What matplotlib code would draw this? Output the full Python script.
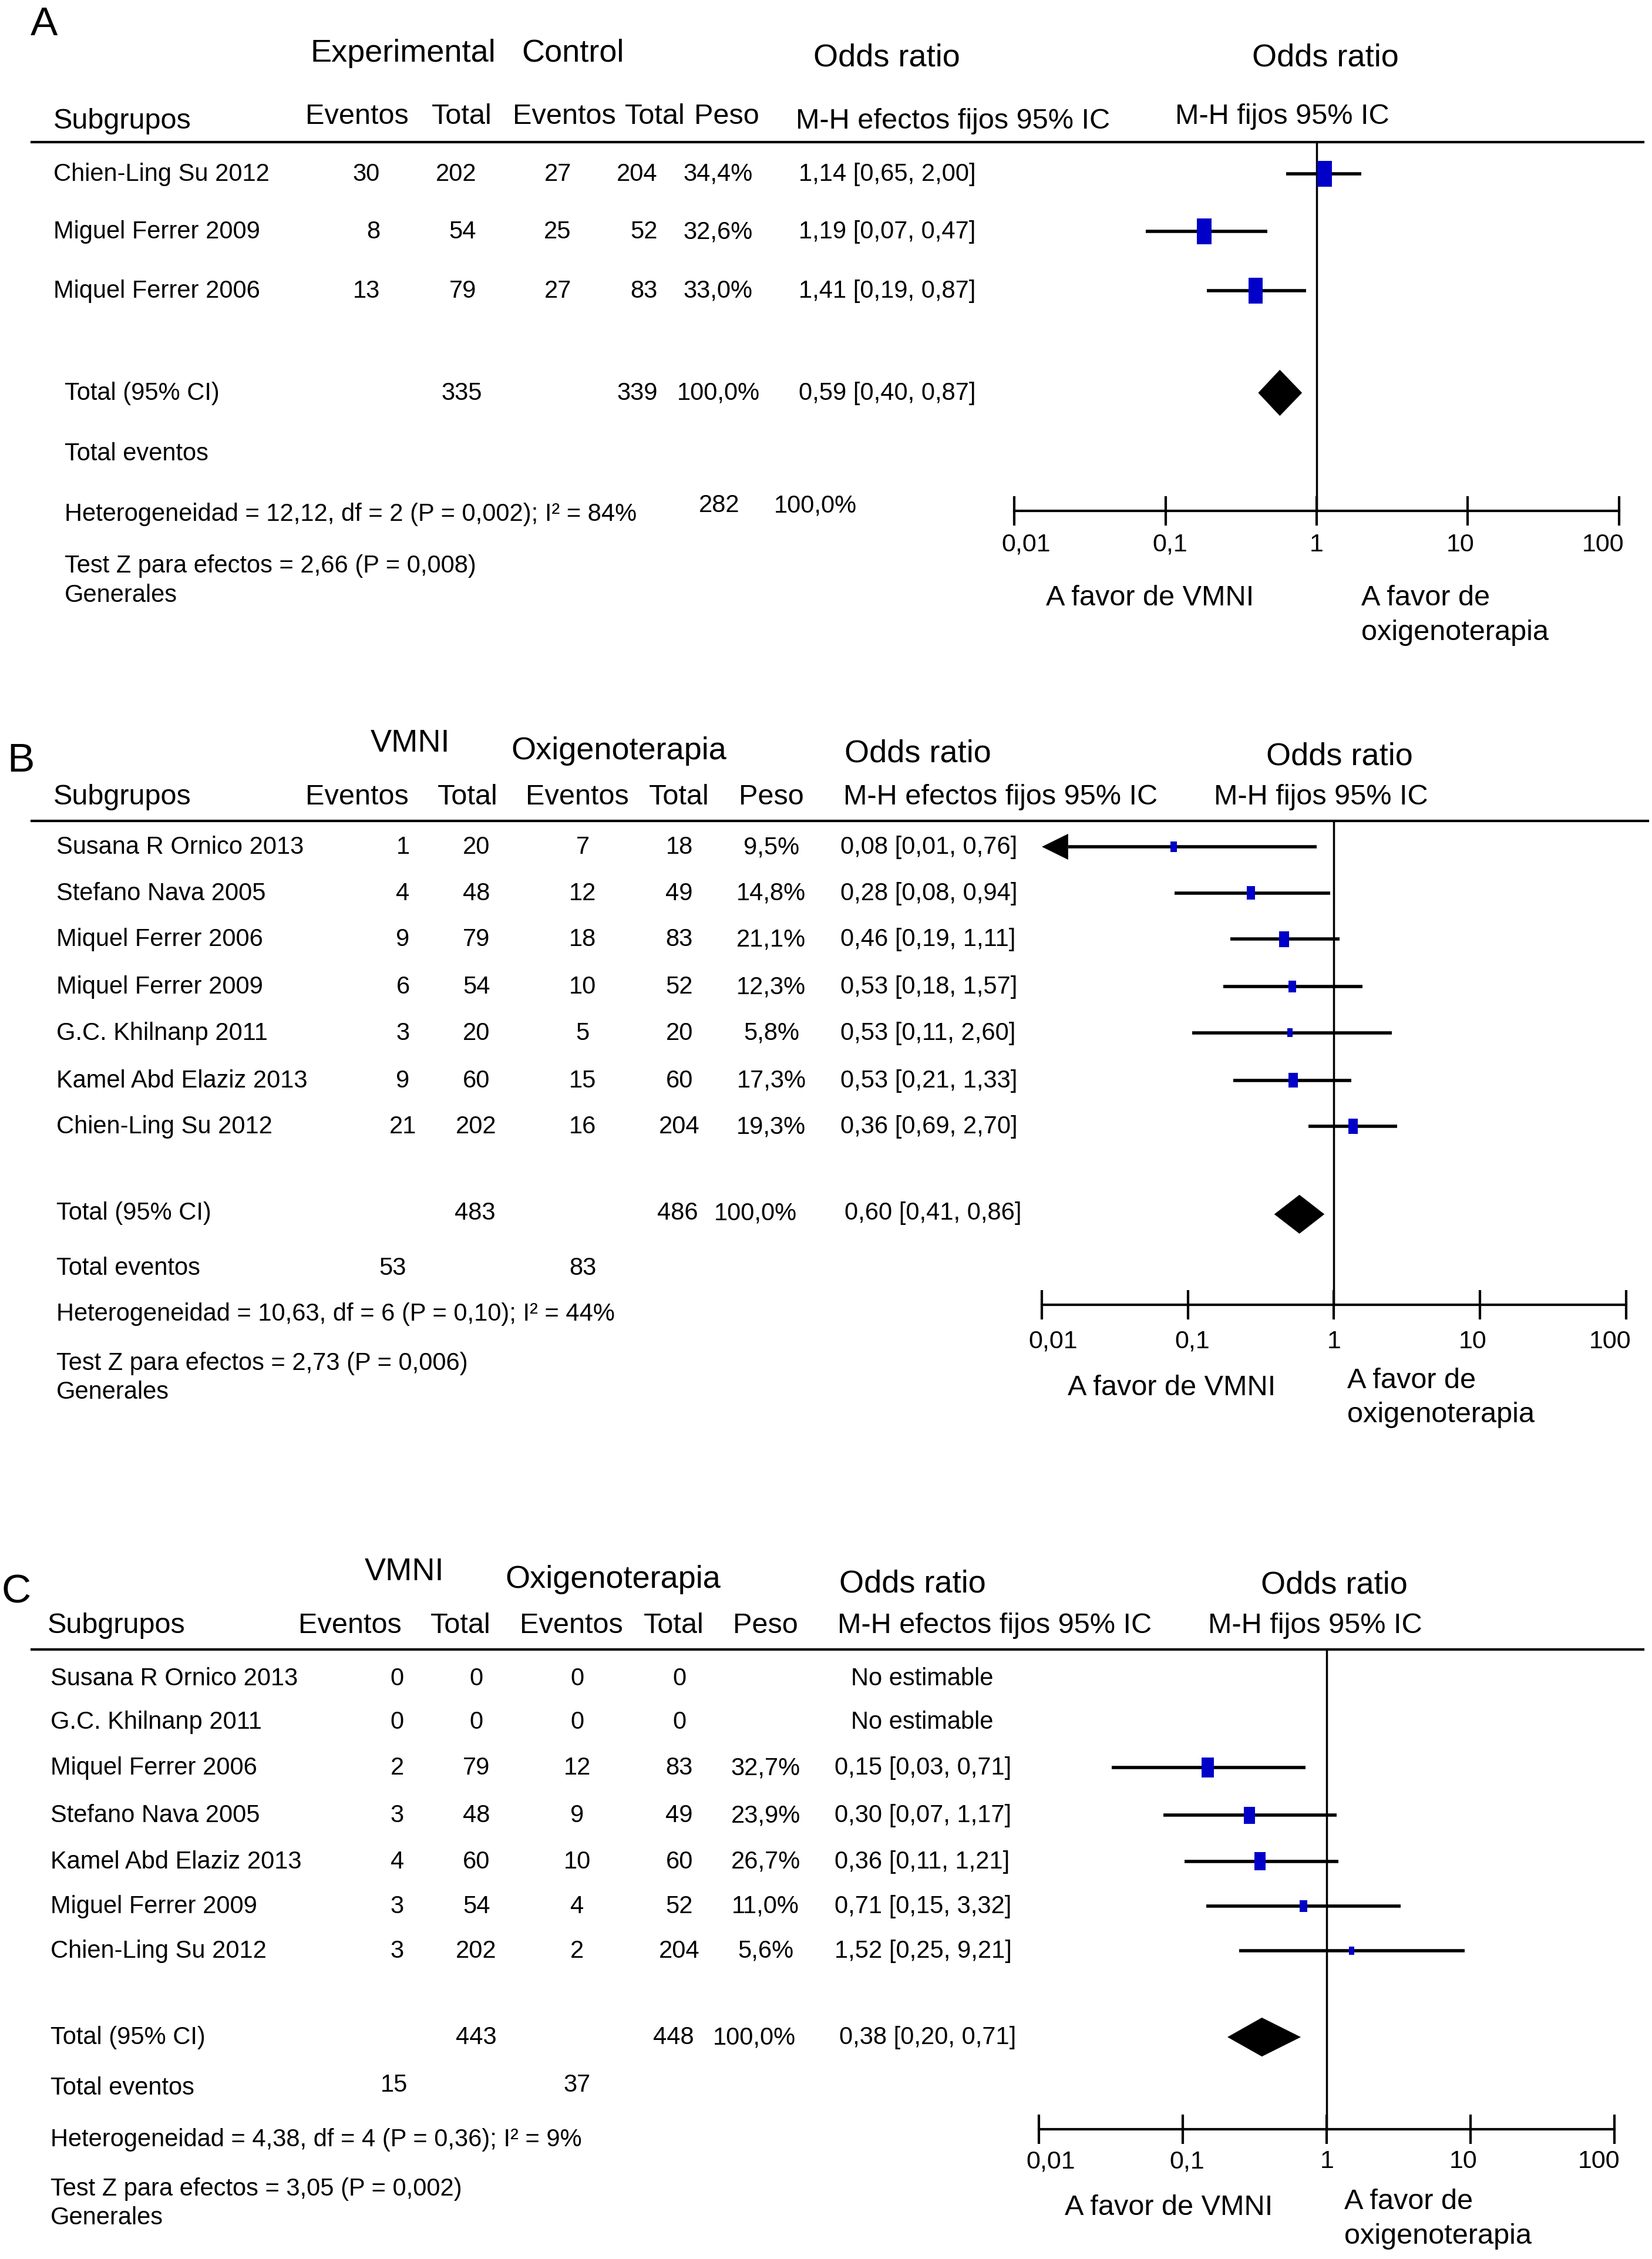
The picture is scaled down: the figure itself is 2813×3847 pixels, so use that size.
import numpy as np
import matplotlib.pyplot as plt
from matplotlib.patches import Rectangle

plt.rcParams['font.family'] = ['Liberation Sans', 'DejaVu Sans']

# reference layout grid (picture units)
W, H = 1148, 1568

# ---------------- panel A ----------------
a_studies = ['Chien-Ling Su 2012', 'Miguel Ferrer 2009', 'Miquel Ferrer 2006']
a_exp_ev = ['30', '8', '13']
a_exp_tot = ['202', '54', '79']
a_ctl_ev = ['27', '25', '27']
a_ctl_tot = ['204', '52', '83']
a_peso = ['34,4%', '32,6%', '33,0%']
a_or_txt = ['1,14 [0,65, 2,00]', '1,19 [0,07, 0,47]', '1,41 [0,19, 0,87]']
a_wt = [34.4, 32.6, 33.0]
a_est = [1.13, 0.18, 0.395]
a_lo = [0.63, 0.074, 0.187]
a_hi = [1.98, 0.47, 0.85]
a_tot = ['335', '339', '100,0%', '0,59 [0,40, 0,87]']
a_diamond = [0.41, 0.57, 0.80]

# ---------------- panel B ----------------
b_studies = ['Susana R Ornico 2013', 'Stefano Nava 2005', 'Miquel Ferrer 2006',
             'Miquel Ferrer 2009', 'G.C. Khilnanp 2011', 'Kamel Abd Elaziz 2013',
             'Chien-Ling Su 2012']
b_exp_ev = ['1', '4', '9', '6', '3', '9', '21']
b_exp_tot = ['20', '48', '79', '54', '20', '60', '202']
b_ctl_ev = ['7', '12', '18', '10', '5', '15', '16']
b_ctl_tot = ['18', '49', '83', '52', '20', '60', '204']
b_peso = ['9,5%', '14,8%', '21,1%', '12,3%', '5,8%', '17,3%', '19,3%']
b_or_txt = ['0,08 [0,01, 0,76]', '0,28 [0,08, 0,94]', '0,46 [0,19, 1,11]',
            '0,53 [0,18, 1,57]', '0,53 [0,11, 2,60]', '0,53 [0,21, 1,33]',
            '0,36 [0,69, 2,70]']
b_wt = [9.5, 14.8, 21.1, 12.3, 5.8, 17.3, 19.3]
b_est = [0.08, 0.27, 0.457, 0.52, 0.50, 0.525, 1.35]
b_lo = [0.01, 0.081, 0.195, 0.174, 0.107, 0.204, 0.67]
b_hi = [0.76, 0.94, 1.09, 1.57, 2.5, 1.31, 2.7]
b_tot = ['483', '486', '100,0%', '0,60 [0,41, 0,86]']
b_tot_ev = ['53', '83']
b_diamond = [0.39, 0.58, 0.86]

# ---------------- panel C ----------------
c_studies = ['Susana R Ornico 2013', 'G.C. Khilnanp 2011', 'Miquel Ferrer 2006',
             'Stefano Nava 2005', 'Kamel Abd Elaziz 2013', 'Miguel Ferrer 2009',
             'Chien-Ling Su 2012']
c_exp_ev = ['0', '0', '2', '3', '4', '3', '3']
c_exp_tot = ['0', '0', '79', '48', '60', '54', '202']
c_ctl_ev = ['0', '0', '12', '9', '10', '4', '2']
c_ctl_tot = ['0', '0', '83', '49', '60', '52', '204']
c_peso = ['', '', '32,7%', '23,9%', '26,7%', '11,0%', '5,6%']
c_or_txt = ['No estimable', 'No estimable', '0,15 [0,03, 0,71]', '0,30 [0,07, 1,17]',
            '0,36 [0,11, 1,21]', '0,71 [0,15, 3,32]', '1,52 [0,25, 9,21]']
c_wt = [np.nan, np.nan, 32.7, 23.9, 26.7, 11.0, 5.6]
c_est = [np.nan, np.nan, 0.149, 0.29, 0.344, 0.69, 1.49]
c_lo = [np.nan, np.nan, 0.032, 0.073, 0.103, 0.145, 0.246]
c_hi = [np.nan, np.nan, 0.71, 1.17, 1.2, 3.27, 9.12]
c_tot = ['443', '448', '100,0%', '0,38 [0,20, 0,71]']
c_tot_ev = ['15', '37']
c_diamond = [0.204, 0.354, 0.66]

tick_vals = [0.01, 0.1, 1, 10, 100]
tick_lbls = ['0,01', '0,1', '1', '10', '100']
tick_nudge = [8, 3, 0, -5, -11]
blue = '#0000C8'

fig = plt.figure(figsize=(28.13, 38.48), dpi=100)
bg = fig.add_axes([0, 0, 1, 1])
bg.set_xlim(0, W)
bg.set_ylim(H, 0)
bg.axis('off')


def txt(x, y, s, size=30, ha='left', va='center'):
    bg.text(x, y, s, fontsize=size, ha=ha, va=va)


def forest(box, rows, est, lo, hi, wt, kw, kh, diamond, dy, dh, lbl_y):
    x0, x1, yt, yb = box
    ax = fig.add_axes([x0 / W, 1 - yb / H, (x1 - x0) / W, (yb - yt) / H])
    ax.set_facecolor('none')
    ax.set_xscale('log')
    ax.set_xlim(0.01, 100)
    ax.set_ylim(yb, yt)
    dec = (x1 - x0) / 4.0
    for sp in ['top', 'left', 'right']:
        ax.spines[sp].set_visible(False)
    ax.spines['bottom'].set_linewidth(3)
    ax.set_yticks([])
    ax.set_xticks(tick_vals)
    ax.set_xticklabels([])
    ax.minorticks_off()
    ax.tick_params(axis='x', direction='inout', length=36, width=3)
    # tick labels, slightly pulled inwards as in the source
    for v, s, n in zip(tick_vals, tick_lbls, tick_nudge):
        xp = x0 + dec * (np.log10(v) + 2) + n
        txt(xp, lbl_y, s, size=31, ha='center')
    ax.axvline(1, color='black', lw=2.5)
    for y, e, l, h, w in zip(rows, est, lo, hi, wt):
        if np.isnan(e):
            continue
        if l <= 0.01:
            head = 0.01 * 10 ** 0.18
            ax.fill([0.01, head, head], [y, y - 9, y + 9], color='black', lw=0)
            ax.plot([head, h], [y, y], color='black', lw=4, solid_capstyle='butt')
        else:
            ax.plot([l, h], [y, y], color='black', lw=4, solid_capstyle='butt')
        hw = kw * np.sqrt(w) / 2 / dec
        hh = kh * np.sqrt(w)
        ax.add_patch(Rectangle((e * 10 ** -hw, y - hh / 2), e * (10 ** hw - 10 ** -hw), hh,
                               color=blue, lw=0, zorder=3))
    dl, de, dhi = diamond
    ax.fill([dl, de, dhi, de], [dy, dy - dh / 2, dy, dy + dh / 2], color='black', lw=0, zorder=3)


# ======== A ========
txt(21, 17, 'A', size=50)
txt(280, 37, 'Experimental', size=39, ha='center')
txt(398, 37, 'Control', size=39, ha='center')
txt(616, 40, 'Odds ratio', size=39, ha='center')
txt(921, 40, 'Odds ratio', size=39, ha='center')
txt(37, 84, 'Subgrupos', size=35)
for x, s in zip([248, 321, 392, 455, 505], ['Eventos', 'Total', 'Eventos', 'Total', 'Peso']):
    txt(x, 81, s, size=35, ha='center')
txt(553, 84, 'M-H efectos fijos 95% IC', size=35)
txt(891, 81, 'M-H fijos 95% IC', size=35, ha='center')
bg.plot([22, 1142], [99, 99], color='black', lw=3)
a_rows = [121, 161, 202]
for i, y in enumerate(a_rows):
    txt(37, y, a_studies[i])
    txt(264, y, a_exp_ev[i], ha='right')
    txt(331, y, a_exp_tot[i], ha='right')
    txt(397, y, a_ctl_ev[i], ha='right')
    txt(457, y, a_ctl_tot[i], ha='right')
    txt(523, y, a_peso[i], ha='right')
    txt(555, y, a_or_txt[i])
txt(45, 273, 'Total (95% CI)')
txt(335, 273, a_tot[0], ha='right')
txt(457, 273, a_tot[1], ha='right')
txt(528, 273, a_tot[2], ha='right')
txt(555, 273, a_tot[3])
txt(45, 315, 'Total eventos')
txt(45, 357, 'Heterogeneidad = 12,12, df = 2 (P = 0,002); I² = 84%')
txt(500, 351, '282', ha='center')
txt(538, 351, '100,0%')
txt(45, 393, 'Test Z para efectos = 2,66 (P = 0,008)')
txt(45, 413, 'Generales')
txt(727, 415, 'A favor de VMNI', size=35)
txt(946, 415, 'A favor de', size=35)
txt(946, 439, 'oxigenoterapia', size=35)
forest((705, 1125, 99, 355), a_rows, a_est, a_lo, a_hi, a_wt, 1.73, 3.1, a_diamond, 273, 32, 378)

# ======== B ========
txt(5, 528, 'B', size=50)
txt(285, 516, 'VMNI', size=39, ha='center')
txt(430, 521, 'Oxigenoterapia', size=39, ha='center')
txt(638, 523, 'Odds ratio', size=39, ha='center')
txt(931, 525, 'Odds ratio', size=39, ha='center')
txt(37, 553, 'Subgrupos', size=35)
for x, s in zip([248, 325, 401, 472, 536], ['Eventos', 'Total', 'Eventos', 'Total', 'Peso']):
    txt(x, 553, s, size=35, ha='center')
txt(586, 553, 'M-H efectos fijos 95% IC', size=35)
txt(918, 553, 'M-H fijos 95% IC', size=35, ha='center')
bg.plot([22, 1145], [570, 570], color='black', lw=3)
b_rows = [588, 620, 652, 685, 717, 750, 782]
for i, y in enumerate(b_rows):
    txt(39, y, b_studies[i])
    txt(280, y, b_exp_ev[i], ha='center')
    txt(331, y, b_exp_tot[i], ha='center')
    txt(405, y, b_ctl_ev[i], ha='center')
    txt(472, y, b_ctl_tot[i], ha='center')
    txt(536, y, b_peso[i], ha='center')
    txt(584, y, b_or_txt[i])
txt(39, 842, 'Total (95% CI)')
txt(330, 842, b_tot[0], ha='center')
txt(471, 842, b_tot[1], ha='center')
txt(525, 842, b_tot[2], ha='center')
txt(587, 842, b_tot[3])
txt(39, 880, 'Total eventos')
txt(273, 880, b_tot_ev[0], ha='center')
txt(405, 880, b_tot_ev[1], ha='center')
txt(39, 912, 'Heterogeneidad = 10,63, df = 6 (P = 0,10); I² = 44%')
txt(39, 946, 'Test Z para efectos = 2,73 (P = 0,006)')
txt(39, 966, 'Generales')
txt(742, 963, 'A favor de VMNI', size=35)
txt(936, 958, 'A favor de', size=35)
txt(936, 982, 'oxigenoterapia', size=35)
forest((724, 1130, 570, 906), b_rows, b_est, b_lo, b_hi, b_wt, 1.5, 2.4, b_diamond, 843, 27, 931)

# ======== C ========
txt(1, 1105, 'C', size=50)
txt(281, 1091, 'VMNI', size=39, ha='center')
txt(426, 1096, 'Oxigenoterapia', size=39, ha='center')
txt(634, 1099, 'Odds ratio', size=39, ha='center')
txt(927, 1100, 'Odds ratio', size=39, ha='center')
txt(33, 1128, 'Subgrupos', size=35)
for x, s in zip([243, 320, 397, 468, 532], ['Eventos', 'Total', 'Eventos', 'Total', 'Peso']):
    txt(x, 1128, s, size=35, ha='center')
txt(582, 1128, 'M-H efectos fijos 95% IC', size=35)
txt(914, 1128, 'M-H fijos 95% IC', size=35, ha='center')
bg.plot([22, 1142], [1145, 1145], color='black', lw=3)
c_rows = [1165, 1195, 1227, 1260, 1292, 1323, 1354]
for i, y in enumerate(c_rows):
    txt(35, y, c_studies[i])
    txt(276, y, c_exp_ev[i], ha='center')
    txt(331, y, c_exp_tot[i], ha='center')
    txt(401, y, c_ctl_ev[i], ha='center')
    txt(472, y, c_ctl_tot[i], ha='center')
    txt(532, y, c_peso[i], ha='center')
    if c_or_txt[i] == 'No estimable':
        txt(641, y, c_or_txt[i], ha='center')
    else:
        txt(580, y, c_or_txt[i])
txt(35, 1414, 'Total (95% CI)')
txt(331, 1414, c_tot[0], ha='center')
txt(468, 1414, c_tot[1], ha='center')
txt(524, 1414, c_tot[2], ha='center')
txt(583, 1414, c_tot[3])
txt(35, 1449, 'Total eventos')
txt(274, 1447, c_tot_ev[0], ha='center')
txt(401, 1447, c_tot_ev[1], ha='center')
txt(35, 1485, 'Heterogeneidad = 4,38, df = 4 (P = 0,36); I² = 9%')
txt(35, 1519, 'Test Z para efectos = 3,05 (P = 0,002)')
txt(35, 1539, 'Generales')
txt(740, 1532, 'A favor de VMNI', size=35)
txt(934, 1528, 'A favor de', size=35)
txt(934, 1552, 'oxigenoterapia', size=35)
forest((722, 1122, 1145, 1478), c_rows, c_est, c_lo, c_hi, c_wt, 1.55, 2.4, c_diamond, 1414, 27, 1500)

fig.savefig('out.png', dpi=100, facecolor='white')
